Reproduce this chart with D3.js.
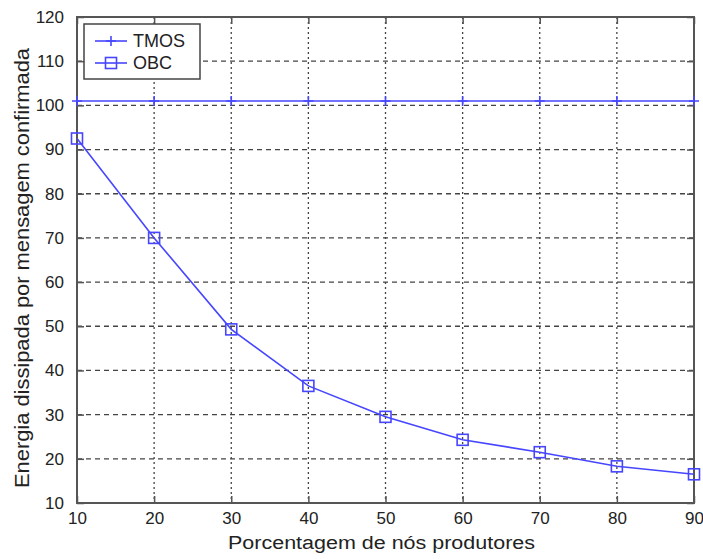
<!DOCTYPE html>
<html><head><meta charset="utf-8">
<script src="https://cdn.jsdelivr.net/npm/d3@7"></script>
<style>
body{margin:0;background:#fff;}
text{font-family:"Liberation Sans",Arial,sans-serif;fill:#222;}
</style></head>
<body>
<svg id="c" width="703" height="559"></svg>
<script>
const xValues = [10, 20, 30, 40, 50, 60, 70, 80, 90];
const tmosValues = [101, 101, 101, 101, 101, 101, 101, 101, 101];
const obcValues = [92.5, 70, 49.3, 36.5, 29.5, 24.3, 21.5, 18.3, 16.5];
const xTicks = [10, 20, 30, 40, 50, 60, 70, 80, 90];
const yTicks = [10, 20, 30, 40, 50, 60, 70, 80, 90, 100, 110, 120];
const seriesNames = ["TMOS", "OBC"];
const xLabel = "Porcentagem de nós produtores";
const yLabel = "Energia dissipada por mensagem confirmada";

const svg = d3.select("#c");
const L = 77, R = 694, T = 17, B = 503;
const x = d3.scaleLinear().domain([10, 90]).range([L, R]);
const y = d3.scaleLinear().domain([10, 120]).range([B, T]);
const blue = "#4646ff";
const frame = "#555";

// grid
const g = svg.append("g");
g.selectAll("line.hg").data(yTicks.slice(1, -1)).join("line")
  .attr("x1", L).attr("x2", R).attr("y1", d => y(d)).attr("y2", d => y(d))
  .attr("stroke", "#444").attr("stroke-width", 1.3).attr("stroke-dasharray", "5,4");
g.selectAll("line.vg").data(xTicks.slice(1, -1)).join("line")
  .attr("y1", T).attr("y2", B).attr("x1", d => x(d)).attr("x2", d => x(d))
  .attr("stroke", "#444").attr("stroke-width", 1.3).attr("stroke-dasharray", "2,3");

// axes (inward ticks)
const tickLen = 7;
const axB = d3.axisBottom(x).tickValues(xTicks).tickSize(-tickLen).tickPadding(tickLen + 2);
const axT = d3.axisTop(x).tickValues(xTicks).tickSize(-tickLen).tickFormat("");
const axL = d3.axisLeft(y).tickValues(yTicks).tickSize(-tickLen).tickPadding(tickLen + 6);
const axR = d3.axisRight(y).tickValues(yTicks).tickSize(-tickLen).tickFormat("");
function style(sel){
  sel.select(".domain").remove();
  sel.selectAll(".tick line").attr("stroke", frame).attr("stroke-width", 1.5);
  sel.selectAll(".tick text").attr("font-size", 17).attr("fill", "#333")
    .attr("font-family", "'Liberation Sans', Arial, sans-serif");
}
svg.append("g").attr("transform", `translate(0,${B})`).call(axB).call(style);
svg.append("g").attr("transform", `translate(0,${T})`).call(axT).call(style);
svg.append("g").attr("transform", `translate(${L},0)`).call(axL).call(style);
svg.append("g").attr("transform", `translate(${R},0)`).call(axR).call(style);
svg.append("rect").attr("x", L).attr("y", T).attr("width", R - L).attr("height", B - T)
  .attr("fill", "none").attr("stroke", frame).attr("stroke-width", 2);

// series
const line = d3.line().x((d, i) => x(xValues[i])).y(d => y(d));
svg.append("path").datum(tmosValues).attr("d", line).attr("fill", "none")
  .attr("stroke", blue).attr("stroke-width", 1.6);
svg.append("path").datum(obcValues).attr("d", line).attr("fill", "none")
  .attr("stroke", blue).attr("stroke-width", 1.6);
const ps = 5;
svg.selectAll("path.plus").data(tmosValues).join("path")
  .attr("d", (d, i) => { const cx = x(xValues[i]), cy = y(d);
    return `M${cx-ps},${cy}H${cx+ps}M${cx},${cy-ps}V${cy+ps}`; })
  .attr("stroke", blue).attr("stroke-width", 1.6).attr("fill", "none");
const sq = 5.5;
svg.selectAll("rect.sq").data(obcValues).join("rect")
  .attr("x", (d, i) => x(xValues[i]) - sq).attr("y", d => y(d) - sq)
  .attr("width", 2 * sq).attr("height", 2 * sq)
  .attr("fill", "none").attr("stroke", blue).attr("stroke-width", 1.6);

// legend
const lg = svg.append("g");
lg.append("rect").attr("x", 84).attr("y", 24).attr("width", 116).attr("height", 55)
  .attr("fill", "#fff").attr("stroke", "#444").attr("stroke-width", 1.5);
seriesNames.forEach((name, i) => {
  const cy = 41 + i * 22;
  lg.append("line").attr("x1", 95).attr("x2", 127).attr("y1", cy).attr("y2", cy)
    .attr("stroke", blue).attr("stroke-width", 1.6);
  if (i === 0) {
    lg.append("path").attr("d", `M${111-ps},${cy}H${111+ps}M111,${cy-ps}V${cy+ps}`)
      .attr("stroke", blue).attr("stroke-width", 1.6);
  } else {
    lg.append("rect").attr("x", 111 - sq).attr("y", cy - sq).attr("width", 2 * sq).attr("height", 2 * sq)
      .attr("fill", "none").attr("stroke", blue).attr("stroke-width", 1.6);
  }
  lg.append("text").attr("x", 133).attr("y", cy + 6).attr("font-size", 18).text(name);
});

// axis labels
svg.append("text").attr("x", 381.5).attr("y", 549).attr("text-anchor", "middle")
  .attr("font-size", 18).attr("textLength", 307).attr("lengthAdjust", "spacingAndGlyphs").text(xLabel);
svg.append("text").attr("transform", `translate(29,268) rotate(-90)`)
  .attr("text-anchor", "middle").attr("font-size", 20)
  .attr("textLength", 440).attr("lengthAdjust", "spacingAndGlyphs").text(yLabel);
</script>
</body></html>
